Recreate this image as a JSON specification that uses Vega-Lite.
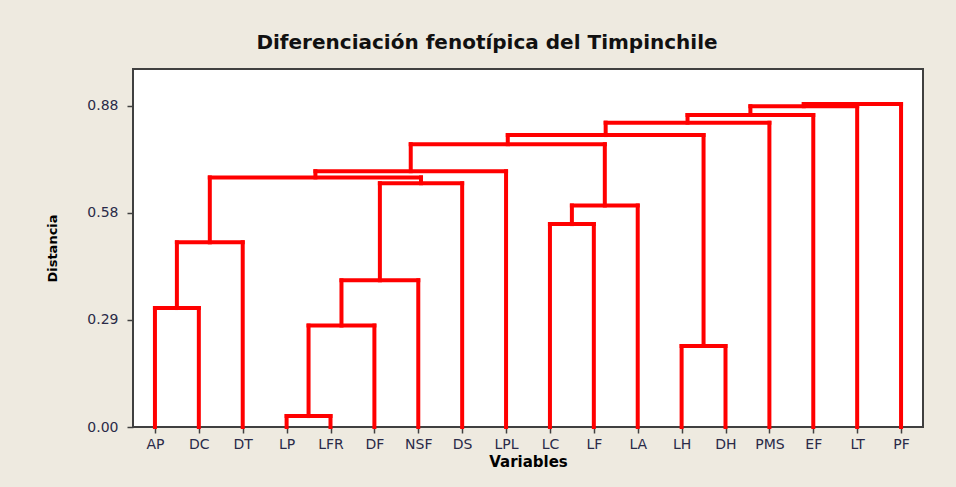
{
  "$schema": "https://vega.github.io/schema/vega-lite/v6.json",
  "width": 790,
  "height": 358,
  "autosize": {"type": "none"},
  "padding": {"left": 133, "top": 69, "right": 33, "bottom": 60},
  "background": "#EEEAE0",
  "title": {
    "text": "Diferenciación fenotípica del Timpinchile",
    "font": "DejaVu Sans",
    "fontSize": 20,
    "fontWeight": "bold",
    "color": "#111111",
    "anchor": "middle",
    "dx": -41,
    "offset": 16
  },
  "config": {
    "view": {"fill": "white", "stroke": "#404040", "strokeWidth": 2},
    "axis": {
      "domain": false,
      "grid": false,
      "tickColor": "#404040",
      "tickWidth": 1.5,
      "tickSize": 6,
      "labelFont": "DejaVu Sans",
      "labelFontSize": 14,
      "labelColor": "#2a2a48",
      "titleFont": "DejaVu Sans",
      "titleFontWeight": "bold",
      "titleColor": "#000000"
    }
  },
  "data": {
    "values": [
      {"merge": "AP+DC", "xl": 1, "xr": 2, "hl": 0, "hr": 0, "h": 0.326},
      {"merge": "+DT", "xl": 1.5, "xr": 3, "hl": 0.326, "hr": 0, "h": 0.506},
      {"merge": "LP+LFR", "xl": 4, "xr": 5, "hl": 0, "hr": 0, "h": 0.03},
      {"merge": "+DF", "xl": 4.5, "xr": 6, "hl": 0.03, "hr": 0, "h": 0.278},
      {"merge": "+NSF", "xl": 5.25, "xr": 7, "hl": 0.278, "hr": 0, "h": 0.402},
      {"merge": "+DS", "xl": 6.125, "xr": 8, "hl": 0.402, "hr": 0, "h": 0.668},
      {"merge": "left groups", "xl": 2.25, "xr": 7.0625, "hl": 0.506, "hr": 0.668, "h": 0.684},
      {"merge": "+LPL", "xl": 4.65625, "xr": 9, "hl": 0.684, "hr": 0, "h": 0.701},
      {"merge": "LC+LF", "xl": 10, "xr": 11, "hl": 0, "hr": 0, "h": 0.556},
      {"merge": "+LA", "xl": 10.5, "xr": 12, "hl": 0.556, "hr": 0, "h": 0.607},
      {"merge": "left+LC group", "xl": 6.828125, "xr": 11.25, "hl": 0.701, "hr": 0.607, "h": 0.775},
      {"merge": "LH+DH", "xl": 13, "xr": 14, "hl": 0, "hr": 0, "h": 0.222},
      {"merge": "+LH group", "xl": 9.0390625, "xr": 13.5, "hl": 0.775, "hr": 0.222, "h": 0.8},
      {"merge": "+PMS", "xl": 11.26953, "xr": 15, "hl": 0.8, "hr": 0, "h": 0.834},
      {"merge": "+EF", "xl": 13.13477, "xr": 16, "hl": 0.834, "hr": 0, "h": 0.855},
      {"merge": "+LT", "xl": 14.56738, "xr": 17, "hl": 0.855, "hr": 0, "h": 0.879},
      {"merge": "+PF", "xl": 15.78369, "xr": 18, "hl": 0.879, "hr": 0, "h": 0.885}
    ]
  },
  "layer": [
    {
      "mark": {"type": "rule", "color": "#FF0000", "strokeWidth": 4, "strokeCap": "square"},
      "encoding": {
        "x": {"field": "xl", "type": "quantitative", "scale": {"domain": [0.5, 18.5], "nice": false, "zero": false},
              "axis": {"title": "Variables", "titleFontSize": 15, "titlePadding": 3, "labelPadding": 4, "values": [1,2,3,4,5,6,7,8,9,10,11,12,13,14,15,16,17,18],
                       "labelExpr": "['AP','DC','DT','LP','LFR','DF','NSF','DS','LPL','LC','LF','LA','LH','DH','PMS','EF','LT','PF'][datum.value-1]"}},
        "y": {"field": "hl", "type": "quantitative", "scale": {"domain": [0, 0.981], "nice": false, "zero": true},
              "axis": {"title": "Distancia", "titleFontSize": 13, "titlePadding": 27, "labelPadding": 9, "values": [0, 0.293333, 0.586667, 0.88],
                       "labelExpr": "format(floor(datum.value*100+0.000001)/100, '.2f')"}},
        "y2": {"field": "h"}
      }
    },
    {
      "mark": {"type": "rule", "color": "#FF0000", "strokeWidth": 4, "strokeCap": "square"},
      "encoding": {
        "x": {"field": "xr", "type": "quantitative", "title": "Variables"},
        "y": {"field": "hr", "type": "quantitative", "title": "Distancia"},
        "y2": {"field": "h"}
      }
    },
    {
      "mark": {"type": "rule", "color": "#FF0000", "strokeWidth": 4, "strokeCap": "square"},
      "encoding": {
        "x": {"field": "xl", "type": "quantitative", "title": "Variables"},
        "x2": {"field": "xr"},
        "y": {"field": "h", "type": "quantitative", "title": "Distancia"}
      }
    }
  ]
}
